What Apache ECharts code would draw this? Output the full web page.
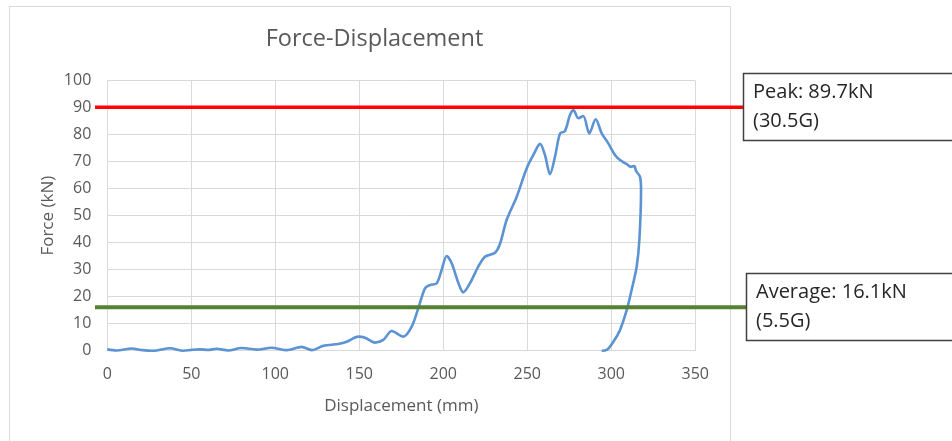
<!DOCTYPE html>
<html>
<head>
<meta charset="utf-8">
<script src="https://cdn.jsdelivr.net/npm/echarts@6/dist/echarts.min.js"></script>
<style>
html,body{margin:0;padding:0;background:#fff;}
#c{width:952px;height:441px;}
</style>
</head>
<body>
<div id="c"></div>
<script>
const titleText = 'Force-Displacement';
const xName = 'Displacement (mm)';
const yName = 'Force (kN)';
const displacement = [0,5.6,14.5,21,27.4,37.3,45.2,50,55.2,60,65,72,80,88.9,97.8,106.8,115.7,121.7,128.6,137.5,142.5,149.4,153.4,159.3,164.3,169.3,176.2,181.2,185.1,189.1,192.1,196.1,199.0,202.0,205.0,209.0,211.9,215.9,220.8,224.8,230.8,233.7,237.7,243.7,249.6,253.6,257.6,260.5,263.5,266.5,269.5,272.4,275.4,277.5,280.4,283.3,286.9,290.7,294.3,298.2,302.2,305.2,309.2,311.7,313.7,314.7,317.1,317.7,316.7,315.1,312.1,309.2,305.2,301.2,297.3,294.3];
const force = [0.5,0.1,0.8,0.2,0,0.9,0,0.3,0.5,0.3,0.7,0.1,1.0,0.4,1.1,0.2,1.4,0.2,1.8,2.5,3.3,5.2,4.8,3.0,4.0,7.3,5.2,8.9,15.7,23.1,24.3,25.0,29.9,35.1,32.4,25.0,21.6,25.0,31.1,34.8,36.3,39.5,48.4,57.0,67.5,72.5,76.6,72.5,65.4,71.9,80.5,81.3,87.3,89.1,86.1,86.9,80.5,85.7,80.5,76.8,72.5,70.6,69.1,68.1,68.4,66.6,64.4,59.5,41.0,31.1,22.5,15.1,7.7,3.3,0.3,0];
const peakValue = 89.7, peakG = 30.5;
const avgValue = 16.1, avgG = 5.5;
const peakLineLevel = 90.2;

const chart = echarts.init(document.getElementById('c'));
const FONT = 'Open Sans';
chart.setOption({
  animation: false,
  backgroundColor: '#fff',
  title: {
    text: titleText, left: 369.5, top: 22, textAlign: 'center',
    textStyle: {fontFamily: FONT, fontSize: 23.5, fontWeight: 'normal', color: '#595959'}
  },
  grid: {left: 107.3, right: 256.7, top: 80.7, bottom: 90.3},
  xAxis: {
    type: 'value', min: 0, max: 350, interval: 50,
    name: xName, nameLocation: 'middle', nameGap: 47,
    nameTextStyle: {fontFamily: FONT, fontSize: 17, color: '#595959'},
    axisLine: {show: false}, axisTick: {show: false},
    axisLabel: {fontFamily: FONT, fontSize: 16, color: '#595959', margin: 16},
    splitLine: {show: true, lineStyle: {color: '#d9d9d9', width: 1}}
  },
  yAxis: {
    type: 'value', min: 0, max: 100, interval: 10,
    name: yName, nameLocation: 'middle', nameGap: 51, nameMoveOverlap: false,
    nameTextStyle: {fontFamily: FONT, fontSize: 17, color: '#595959'},
    axisLine: {show: false}, axisTick: {show: false},
    axisLabel: {fontFamily: FONT, fontSize: 16, color: '#595959', margin: 16},
    splitLine: {show: true, lineStyle: {color: '#d9d9d9', width: 1}}
  },
  series: [{
    type: 'line', showSymbol: false, smooth: 0.3,
    data: displacement.map((d, i) => [d, force[i]]),
    lineStyle: {color: '#5b93d3', width: 2.6},
    z: 3
  }]
});

const yPeak = chart.convertToPixel({gridIndex: 0}, [0, peakLineLevel])[1];
const yAvg = chart.convertToPixel({gridIndex: 0}, [0, avgValue])[1];
const textStyle = {fontFamily: FONT, fontSize: 20, fill: '#262626', lineHeight: 29};
chart.setOption({
  graphic: [
    {type: 'rect', z: -1, shape: {x: 9.5, y: 6.5, width: 721, height: 440}, style: {fill: 'none', stroke: '#d9d9d9', lineWidth: 1}},
    {type: 'line', z: 10, shape: {x1: 95, y1: yPeak, x2: 744, y2: yPeak}, style: {stroke: '#ff0000', lineWidth: 3.5}},
    {type: 'line', z: 10, shape: {x1: 95, y1: yAvg, x2: 747, y2: yAvg}, style: {stroke: '#548235', lineWidth: 4}},
    {type: 'rect', z: 11, shape: {x: 743.5, y: 73.5, width: 230, height: 67}, style: {fill: '#fff', stroke: '#404040', lineWidth: 1.5}},
    {type: 'rect', z: 11, shape: {x: 746.5, y: 273.5, width: 230, height: 67}, style: {fill: '#fff', stroke: '#404040', lineWidth: 1.5}},
    {type: 'text', z: 12, x: 753, y: 78, style: Object.assign({text: 'Peak: ' + peakValue + 'kN\n(' + peakG + 'G)'}, textStyle)},
    {type: 'text', z: 12, x: 756, y: 278, style: Object.assign({text: 'Average: ' + avgValue + 'kN\n(' + avgG + 'G)'}, textStyle)}
  ]
});
</script>
</body>
</html>
